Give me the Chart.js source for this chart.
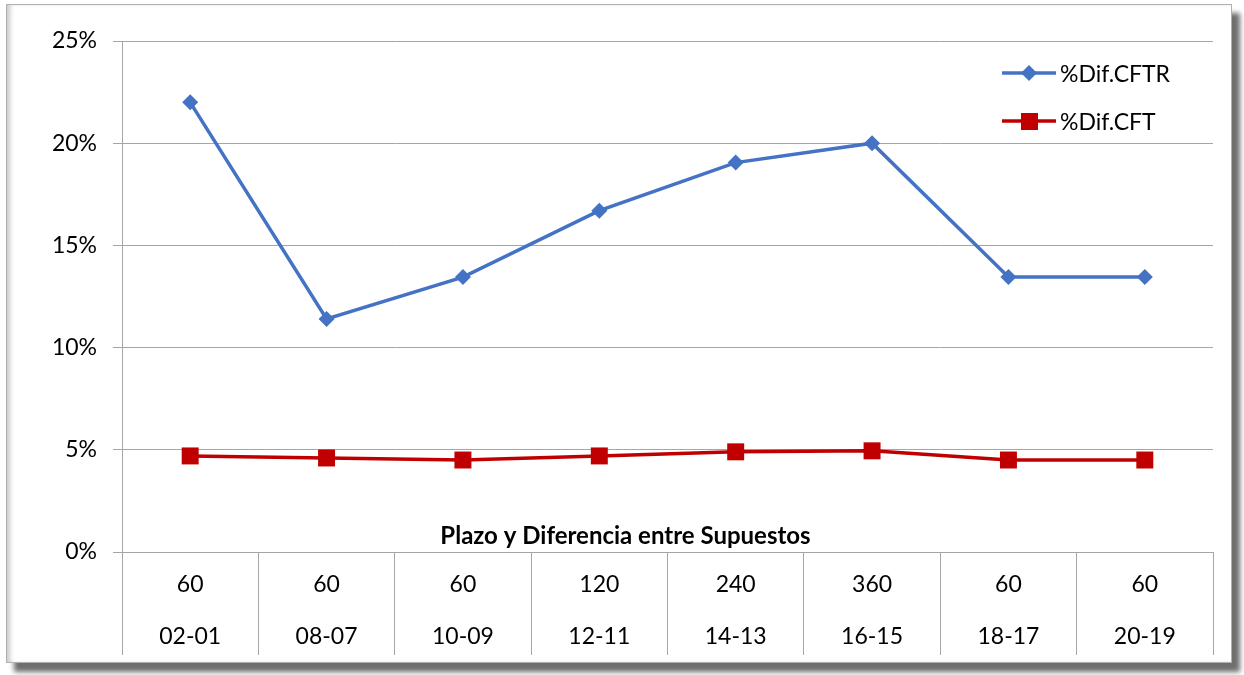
<!DOCTYPE html>
<html>
<head>
<meta charset="utf-8">
<script src="https://cdn.jsdelivr.net/npm/chart.js@4.4.1/dist/chart.umd.min.js"></script>
<style>
  html, body { margin: 0; padding: 0; background: #fff; }
  #wrap { position: relative; width: 1244px; height: 675px; overflow: hidden; }
  #frame {
    position: absolute; left: 6px; top: 4px; width: 1224px; height: 657px;
    border: 1px solid #b0b0b0;
    box-shadow: 8px 9px 5px #6e6e6e, inset 5px 0 5px -2px #c8c8c8;
    background: #fff;
  }
  #chart { position: absolute; left: 0; top: 0; }
  .legend { position: absolute; left: 1000px; top: 49px; font-family: Lato, "Open Sans", sans-serif; font-size: 23px; color: #000; }
  .item { display: flex; align-items: center; height: 48px; }
  .item svg { margin-right: 2px; }
</style>
</head>
<body>
<div id="wrap">
  <div id="frame"></div>
  <canvas id="chart" width="1244" height="675"></canvas>
  <div class="legend">
    <div class="item">
      <svg width="58" height="20"><line x1="2" y1="10" x2="56" y2="10" stroke="#4472C4" stroke-width="3.5"/><polygon points="29,2 37,10 29,18 21,10" fill="#4472C4"/></svg>
      <span>%Dif.CFTR</span>
    </div>
    <div class="item">
      <svg width="58" height="20"><line x1="2" y1="10" x2="56" y2="10" stroke="#C00000" stroke-width="3.5"/><rect x="21" y="2" width="17" height="17" fill="#C00000"/></svg>
      <span>%Dif.CFT</span>
    </div>
  </div>
</div>
<script>
// categories: plazo (first row) and diferencia entre supuestos (second row)
const plazos = ['60', '60', '60', '120', '240', '360', '60', '60'];
const supuestos = ['02-01', '08-07', '10-09', '12-11', '14-13', '16-15', '18-17', '20-19'];
const difCFTR = [22.0, 11.4, 13.45, 16.7, 19.05, 20.0, 13.45, 13.45];
const difCFT = [4.7, 4.6, 4.5, 4.7, 4.9, 4.95, 4.5, 4.5];
const yTicks = [0, 5, 10, 15, 20, 25];
const axisTitle = 'Plazo y Diferencia entre Supuestos';

const gridGray = '#a6a6a6';
const fontFamily = 'Lato, "Open Sans", sans-serif';

const labels = plazos.map((p, i) => [p, supuestos[i]]);

// the axis title sits inside the plot, just above the category axis
const axisTitlePlugin = {
    id: 'axisTitle',
    afterDraw(chart) {
        const ctx = chart.ctx;
        const area = chart.chartArea;
        ctx.save();
        ctx.font = 'bold 24px ' + fontFamily;
        ctx.fillStyle = '#000';
        ctx.textAlign = 'center';
        ctx.textBaseline = 'middle';
        ctx.fillText(axisTitle, (area.left + area.right) / 2 - 42, area.bottom - 16);
        ctx.restore();
    }
};

new Chart(document.getElementById('chart').getContext('2d'), {
    type: 'line',
    data: {
        labels: labels,
        datasets: [{
            label: '%Dif.CFTR',
            data: difCFTR,
            borderColor: '#4472C4',
            backgroundColor: '#4472C4',
            borderWidth: 3.5,
            pointStyle: 'rectRot',
            pointRadius: 8,
            pointBorderWidth: 0,
            tension: 0
        }, {
            label: '%Dif.CFT',
            data: difCFT,
            borderColor: '#C00000',
            backgroundColor: '#C00000',
            borderWidth: 3.5,
            pointStyle: 'rect',
            pointRadius: 12,
            pointBorderWidth: 0,
            tension: 0
        }]
    },
    options: {
        responsive: false,
        animation: false,
        layout: { padding: { top: 41, right: 31, left: 0, bottom: 0 } },
        plugins: {
            legend: { display: false },
            tooltip: { enabled: false }
        },
        scales: {
            x: {
                offset: true,
                afterFit(scale) { scale.height = 123; },
                grid: {
                    offset: true,
                    drawOnChartArea: false,
                    drawTicks: true,
                    tickLength: 103,
                    color: gridGray,
                    lineWidth: 1
                },
                border: { color: gridGray, width: 1 },
                ticks: {
                    font: { family: fontFamily, size: 23, lineHeight: 2.26 },
                    color: '#000',
                    padding: -96,
                    maxRotation: 0,
                    autoSkip: false
                }
            },
            y: {
                min: 0,
                max: 25,
                afterFit(scale) { scale.width = 122; },
                afterBuildTicks(scale) { scale.ticks = yTicks.map(v => ({ value: v })); },
                grid: {
                    color: gridGray,
                    lineWidth: 1,
                    tickLength: 9
                },
                border: { color: gridGray, width: 1 },
                ticks: {
                    font: { family: fontFamily, size: 23 },
                    color: '#000',
                    padding: 16,
                    callback: v => v + '%'
                }
            }
        }
    },
    plugins: [axisTitlePlugin]
});
</script>
</body>
</html>
